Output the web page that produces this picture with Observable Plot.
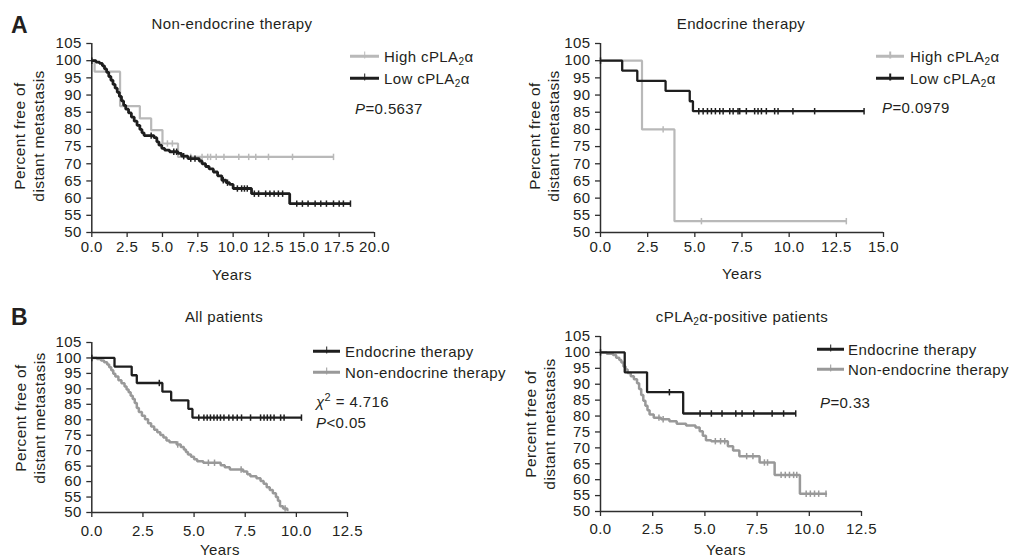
<!DOCTYPE html>
<html>
<head>
<meta charset="utf-8">
<script src="https://cdn.jsdelivr.net/npm/d3@7"></script>
<script src="https://cdn.jsdelivr.net/npm/@observablehq/plot@0.6"></script>
<style>
  body { margin: 0; background: #fff; }
  #root { position: relative; width: 1011px; height: 557px; overflow: hidden;
          font-family: "Liberation Sans", Arial, sans-serif; color: #231f20; background: #fff; }
  .abs { position: absolute; white-space: nowrap; font-size: 15px; line-height: 1; letter-spacing: 0.4px; }
  .plot { position: absolute; }
  sub { font-size: 10px; vertical-align: -3px; line-height: 0; }
  sup { font-size: 11px; vertical-align: 6px; line-height: 0; }
  .sw { position: absolute; height: 2.5px; transform: translateY(-50%); }
  .swt { position: absolute; width: 1.6px; height: 7px; transform: translate(-50%, -50%); }
</style>
</head>
<body>
<div id="root"></div>
<script>
// ---------- tick labels ----------
const yTicks = [50, 55, 60, 65, 70, 75, 80, 85, 90, 95, 100, 105];
const xTicksA1 = [0, 2.5, 5, 7.5, 10, 12.5, 15, 17.5, 20];
const xTicksA2 = [0, 2.5, 5, 7.5, 10, 12.5, 15];
const xTicksB = [0, 2.5, 5, 7.5, 10, 12.5];

// ---------- A: Non-endocrine therapy ----------
const a1HighT = [0, 0.2, 2.0, 3.4, 4.2, 5.0, 6.1, 17.1];
const a1HighS = [100, 96.8, 86.8, 83.2, 79.8, 75.9, 72.0, 72.0];
const a1HighCens = [5.35, 5.7, 7.0, 7.8, 8.2, 8.4, 8.8, 9.35, 10.4, 11.1, 11.6, 12.5, 14.2, 17.1];

const a1LowT = [0, 0.3, 0.55, 0.75, 0.9, 1.05, 1.2, 1.35, 1.5, 1.65, 1.8, 1.95, 2.1, 2.25, 2.4, 2.6, 2.8, 3.0, 3.2, 3.4, 3.55, 3.7, 4.4, 4.6, 4.75, 4.95, 5.15, 5.5, 6.1, 6.35, 6.8, 7.6, 7.8, 8.05, 8.3, 8.6, 8.9, 9.2, 9.5, 9.75, 10.0, 11.3, 14.0, 18.3];
const a1LowS = [100, 99.6, 99.2, 98.5, 97.6, 96.6, 95.4, 94.3, 93.1, 92.0, 90.8, 89.6, 88.3, 87.0, 85.9, 84.8, 83.6, 82.4, 81.2, 80.0, 79.0, 78.2, 77.6, 76.4, 75.4, 74.5, 74.0, 73.5, 73.0, 72.2, 71.5, 70.8, 70.0, 69.2, 68.5, 67.6, 66.5, 65.2, 64.5, 64.0, 62.8, 61.3, 58.4, 58.4];
const a1LowCens = [0, 4.2, 5.8, 6.0, 6.5, 7.0, 7.3, 9.3, 9.6, 10.3, 10.6, 10.8, 11.0, 11.5, 11.8, 12.3, 12.6, 12.9, 13.2, 13.5, 14.5, 14.9, 15.3, 15.8, 16.2, 16.6, 17.1, 17.5, 17.8, 18.3];

// ---------- A: Endocrine therapy ----------
const a2HighT = [0, 2.2, 3.92, 13.03];
const a2HighS = [100, 80.0, 53.3, 53.3];
const a2HighCens = [3.32, 5.35, 13.03];

const a2LowT = [0, 1.15, 1.95, 3.45, 4.73, 4.9, 13.97];
const a2LowS = [100, 97.1, 94.1, 91.2, 88.2, 85.3, 85.3];
const a2LowCens = [0, 5.21, 5.44, 5.67, 5.88, 6.09, 6.32, 6.5, 6.85, 7.03, 7.29, 7.38, 7.73, 8.17, 8.35, 8.53, 8.79, 9.23, 9.41, 10.2, 11.35, 13.97];

// ---------- B: All patients ----------
const b1EndoT = [0, 1.11, 1.95, 2.2, 3.45, 3.88, 4.72, 4.92, 10.25];
const b1EndoS = [100, 97.2, 94.4, 91.9, 89.1, 86.3, 83.5, 80.7, 80.7];
const b1EndoCens = [0, 3.3, 5.23, 5.48, 5.64, 5.8, 5.97, 6.13, 6.29, 6.46, 6.7, 6.9, 7.11, 7.32, 7.76, 8.25, 8.42, 8.58, 8.74, 8.91, 9.23, 9.4, 10.25];

const b1NonT = [0, 0.25, 0.45, 0.6, 0.75, 0.85, 0.95, 1.05, 1.15, 1.3, 1.45, 1.6, 1.7, 1.8, 1.9, 2.0, 2.1, 2.2, 2.3, 2.45, 2.6, 2.75, 2.9, 3.05, 3.2, 3.35, 3.5, 3.65, 3.8, 4.15, 4.35, 4.5, 4.6, 4.7, 4.85, 5.0, 5.15, 5.45, 6.3, 6.5, 6.75, 7.4, 7.6, 7.75, 8.05, 8.25, 8.4, 8.55, 8.7, 8.85, 9.0, 9.1, 9.2, 9.35, 9.55, 9.62];
const b1NonS = [100, 99.7, 99.2, 98.6, 97.9, 97.0, 96.0, 94.9, 94.0, 92.8, 91.8, 90.8, 89.8, 88.9, 87.8, 86.7, 85.4, 83.8, 82.5, 81.3, 80.2, 78.9, 77.8, 76.8, 76.0, 75.1, 74.3, 73.3, 72.7, 72.0, 71.2, 70.4, 69.6, 68.8, 68.0, 67.2, 66.6, 66.1, 65.3, 64.6, 63.9, 63.3, 62.4, 61.7, 61.1, 60.2, 59.3, 58.2, 57.3, 56.2, 55.0, 53.8, 52.0, 51.3, 50.8, 50.8];
const b1NonCens = [4.2, 5.7, 6.0, 7.3, 9.45];

// ---------- B: cPLA2α-positive patients ----------
const b2EndoT = [0, 1.16, 2.23, 3.96, 9.35];
const b2EndoS = [100, 93.75, 87.5, 80.8, 80.8];
const b2EndoCens = [0, 3.3, 4.77, 5.31, 5.82, 6.48, 6.78, 7.34, 8.22, 8.77, 9.35];

const b2NonT = [0, 0.3, 0.6, 0.75, 0.9, 1.0, 1.1, 1.2, 1.3, 1.45, 1.6, 1.75, 1.85, 1.95, 2.05, 2.15, 2.25, 2.35, 2.55, 2.9, 3.3, 3.65, 4.1, 4.55, 4.75, 4.9, 5.05, 5.3, 6.1, 6.35, 6.65, 7.62, 8.34, 9.55, 10.85];
const b2NonS = [100, 99.6, 99.2, 98.3, 97.6, 96.8, 95.6, 94.6, 93.5, 92.5, 91.6, 90.3, 88.5, 86.6, 84.8, 83.2, 81.8, 80.5, 79.5, 79.0, 78.4, 77.6, 77.0, 76.4, 75.2, 73.8, 72.4, 72.1, 70.5, 69.2, 67.4, 65.4, 61.5, 55.6, 55.6];
const b2NonCens = [2.8, 3.0, 5.5, 5.75, 5.95, 7.0, 7.3, 7.85, 8.0, 8.65, 8.85, 9.05, 9.25, 9.4, 9.85, 10.05, 10.25, 10.45, 10.8];

// ---------- colours ----------
const BLACK = "#1e1e1e";
const LIGHT = "#b9b9b9";
const GRAY = "#999999";
const AXIS = "#2e2e2e";
const FONT = '"Liberation Sans", Arial, sans-serif';

const root = document.getElementById("root");

function toRows(ts, ss) { return ts.map((t, i) => ({t, s: ss[i]})); }
function stepAt(ts, ss, t) {
  let s = ss[0];
  for (let i = 0; i < ts.length; i++) if (ts[i] <= t + 1e-9) s = ss[i];
  return s;
}
function censRows(ts, ss, cens) { return cens.map(t => ({t, s: stepAt(ts, ss, t)})); }

const tickSymbol = {
  draw(ctx, size) {
    const h = Math.sqrt(size / Math.PI);
    ctx.moveTo(0, -h);
    ctx.lineTo(0, h);
  }
};

function curveMarks(ts, ss, cens, color, w) {
  return [
    Plot.line(toRows(ts, ss), {x: "t", y: "s", curve: "step-after", stroke: color, strokeWidth: w, strokeLinejoin: "miter", strokeLinecap: "butt"}),
    Plot.dot(censRows(ts, ss, cens), {x: "t", y: "s", symbol: tickSymbol, r: 3.2, stroke: color, strokeWidth: 1.5, fill: "none"})
  ];
}

function panel({left, top, width, height, mL, mR, mT, mB, xTicks, xPad, series}) {
  const xMax = xTicks[xTicks.length - 1];
  const chart = Plot.plot({
    width, height,
    marginLeft: mL, marginRight: mR, marginTop: mT, marginBottom: mB,
    x: {domain: [0, xMax], label: null},
    y: {domain: [50, 105], label: null},
    style: `font-family:${FONT};font-size:15px;letter-spacing:0.4px;color:#231f20;background:transparent;overflow:visible;`,
    marks: [
      Plot.axisX(xTicks, {tickSize: 5, tickPadding: xPad, tickFormat: d => d.toFixed(1), stroke: AXIS, strokeWidth: 1.3, label: null}),
      Plot.axisY(yTicks, {tickSize: 5, tickPadding: 5, stroke: AXIS, strokeWidth: 1.3, label: null}),
      Plot.ruleX([0], {stroke: AXIS, strokeWidth: 1.5}),
      Plot.ruleY([50], {stroke: AXIS, strokeWidth: 1.5}),
      ...series.flatMap(s => curveMarks(s.t, s.s, s.c, s.color, s.w))
    ]
  });
  chart.classList.add("plot");
  chart.style.left = left + "px";
  chart.style.top = top + "px";
  root.appendChild(chart);
}

function text(html, x, y, extra = "", anchor = "left") {
  const d = document.createElement("div");
  d.className = "abs";
  d.innerHTML = html;
  d.style.left = x + "px";
  d.style.top = y + "px";
  d.style.transform = anchor === "center" ? "translate(-50%,-50%)" : "translateY(-50%)";
  if (extra) d.style.cssText += extra;
  root.appendChild(d);
}

function ylabel(cx, cy) {
  const d = document.createElement("div");
  d.className = "abs";
  d.innerHTML = "Percent free of<br>distant metastasis";
  d.style.cssText += `left:${cx}px;top:${cy}px;transform:translate(-50%,-50%) rotate(-90deg);text-align:center;line-height:19px;font-size:15.5px;`;
  root.appendChild(d);
}

function legendItem(x1, x2, y, color, label, tx) {
  const l = document.createElement("div");
  l.className = "sw";
  l.style.cssText += `left:${x1}px;top:${y}px;width:${x2 - x1}px;background:${color};`;
  root.appendChild(l);
  const t = document.createElement("div");
  t.className = "swt";
  t.style.cssText += `left:${(x1 + x2) / 2}px;top:${y - 1}px;background:${color};`;
  root.appendChild(t);
  text(label, tx, y);
}

// ----- panels -----
panel({left: 0, top: 0, width: 500, height: 290, mL: 91.3, mR: 126, mT: 43, mB: 58, xTicks: xTicksA1, xPad: 4,
  series: [
    {t: a1HighT, s: a1HighS, c: a1HighCens, color: LIGHT, w: 2.2},
    {t: a1LowT, s: a1LowS, c: a1LowCens, color: BLACK, w: 2.8}
  ]});
panel({left: 500, top: 0, width: 511, height: 290, mL: 100, mR: 128, mT: 43, mB: 58, xTicks: xTicksA2, xPad: 4,
  series: [
    {t: a2HighT, s: a2HighS, c: a2HighCens, color: LIGHT, w: 2.2},
    {t: a2LowT, s: a2LowS, c: a2LowCens, color: BLACK, w: 2.3}
  ]});
panel({left: 0, top: 290, width: 500, height: 267, mL: 91.3, mR: 153, mT: 52, mB: 45, xTicks: xTicksB, xPad: 8,
  series: [
    {t: b1NonT, s: b1NonS, c: b1NonCens, color: GRAY, w: 2.5},
    {t: b1EndoT, s: b1EndoS, c: b1EndoCens, color: BLACK, w: 2.3}
  ]});
panel({left: 500, top: 290, width: 511, height: 267, mL: 100, mR: 150, mT: 46, mB: 46, xTicks: xTicksB, xPad: 7,
  series: [
    {t: b2NonT, s: b2NonS, c: b2NonCens, color: GRAY, w: 2.5},
    {t: b2EndoT, s: b2EndoS, c: b2EndoCens, color: BLACK, w: 2.3}
  ]});

// ----- panel letters -----
text("A", 11, 25, "font-weight:bold;font-size:23px;letter-spacing:0;");
text("B", 11, 317, "font-weight:bold;font-size:23px;letter-spacing:0;");

// ----- titles -----
text("Non-endocrine therapy", 232, 23, "", "center");
text("Endocrine therapy", 741, 23, "", "center");
text("All patients", 224, 316, "", "center");
text("cPLA<sub>2</sub>α-positive patients", 742, 316, "", "center");

// ----- axis labels -----
ylabel(28.5, 136);
ylabel(543.5, 136);
ylabel(29.5, 418);
ylabel(540, 424);
text("Years", 232, 274, "", "center");
text("Years", 742, 273, "", "center");
text("Years", 220, 549, "", "center");
text("Years", 726, 549, "", "center");

// ----- legends & statistics -----
legendItem(350, 379, 56, LIGHT, "High cPLA<sub>2</sub>α", 384);
legendItem(350, 379, 78, BLACK, "Low cPLA<sub>2</sub>α", 384);
text("<i>P</i>=0.5637", 355, 108);

legendItem(876, 904, 56, LIGHT, "High cPLA<sub>2</sub>α", 910);
legendItem(876, 904, 78, BLACK, "Low cPLA<sub>2</sub>α", 910);
text("<i>P</i>=0.0979", 882, 107);

legendItem(313, 340, 351, BLACK, "Endocrine therapy", 345);
legendItem(313, 340, 372, GRAY, "Non-endocrine therapy", 345);
text("<i>χ</i><sup>2</sup> = 4.716", 316, 401);
text("<i>P</i>&lt;0.05", 316, 422);

legendItem(817, 844, 349, BLACK, "Endocrine therapy", 848);
legendItem(817, 844, 369, GRAY, "Non-endocrine therapy", 848);
text("<i>P</i>=0.33", 820, 402);
</script>
</body>
</html>
